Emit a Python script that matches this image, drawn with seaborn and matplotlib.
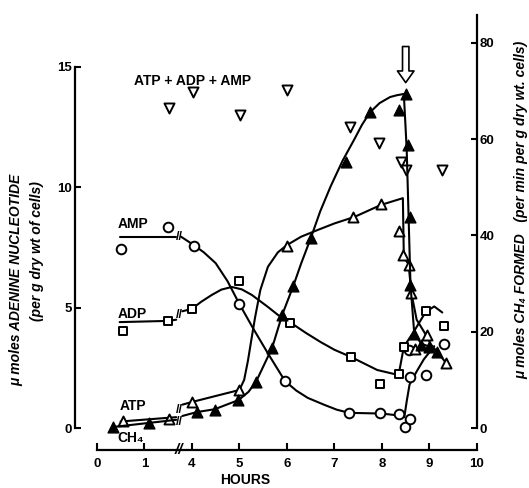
import numpy as np
import matplotlib
matplotlib.use("Agg")
import matplotlib.pyplot as plt
import seaborn as sns

sns.set_style("ticks")
FAM = ["Liberation Sans", "DejaVu Sans"]
plt.rcParams["font.family"] = FAM
plt.rcParams["font.weight"] = "bold"
for k in ("text.color", "axes.labelcolor", "xtick.color", "ytick.color", "axes.edgecolor"):
    plt.rcParams[k] = "black"

# ---------------- data (hours, values) ----------------
# tick labels of the broken hour axis
x_tick_labels = ["0", "1", "4", "5", "6", "7", "8", "9", "10"]
left_ticks = [0, 5, 10, 15]
right_ticks = [0, 20, 40, 60, 80]

# AMP (open circles), umol / g
amp_h = [0.5, 1.5, 4.04, 5.0, 5.96, 7.31, 7.96, 8.35, 8.48, 8.58, 8.56, 8.58, 8.92, 9.31]
amp_v = [7.44, 8.35, 7.56, 5.15, 1.95, 0.62, 0.62, 0.58, 0.04, 0.37, 3.24, 2.1, 2.2, 3.5]
# ADP (open squares)
adp_h = [0.54, 1.5, 4.0, 5.0, 6.06, 7.35, 7.96, 8.35, 8.46, 8.92, 9.31]
adp_v = [4.03, 4.45, 4.94, 6.1, 4.38, 2.95, 1.83, 2.24, 3.37, 4.86, 4.24]
# ATP (open triangles)
atp_h = [0.54, 1.52, 4.0, 5.0, 6.0, 7.4, 7.98, 8.35, 8.44, 8.56, 8.62, 8.7, 8.94, 9.35]
atp_v = [0.29, 0.37, 1.08, 1.58, 7.58, 8.77, 9.3, 8.2, 7.2, 6.77, 5.6, 3.3, 3.85, 2.7]
# ATP + ADP + AMP (open inverted triangles)
tot_h = [1.52, 4.02, 5.02, 6.0, 7.33, 7.94, 8.4, 8.5, 9.27]
tot_v = [13.3, 13.95, 13.0, 14.05, 12.5, 11.85, 11.05, 10.7, 10.7]
# CH4 formed (filled triangles), right axis
ch4_h = [0.33, 1.1, 4.1, 4.48, 4.98, 5.35, 5.69, 5.9, 6.13, 6.5, 7.25, 7.75, 8.35, 8.5,
         8.54, 8.58, 8.6, 8.68, 8.83, 9.0, 9.15]
ch4_v = [0.2, 1.0, 3.3, 3.75, 5.8, 9.6, 16.7, 23.5, 29.4, 39.4, 55.2, 65.6, 66.0, 69.4,
         58.8, 43.9, 29.8, 19.6, 17.2, 16.9, 15.8]

# hand-fitted curves (before / after the axis break)
amp_pre_h, amp_pre_v = [0.48, 1.67], [7.95, 7.95]
amp_post_h = [3.77, 4.04, 4.25, 4.5, 4.75, 5.0, 5.3, 5.6, 5.96, 6.2, 6.44, 6.79, 7.05, 7.31,
              8.0, 8.35, 8.47, 8.52, 8.58, 8.73, 8.88, 9.1]
amp_post_v = [7.95, 7.6, 7.3, 6.85, 6.1, 5.15, 4.1, 3.1, 1.95, 1.55, 1.25, 0.96, 0.76, 0.63,
              0.6, 0.52, 0.45, 1.1, 1.8, 2.35, 2.85, 3.4]

adp_pre_h, adp_pre_v = [0.48, 1.5, 1.67], [4.4, 4.45, 4.5]
adp_post_h = [3.8, 4.0, 4.2, 4.42, 4.62, 4.84, 5.05, 5.26, 5.6, 5.81, 6.06, 6.4, 6.71, 7.0,
              7.35, 7.9, 8.35, 8.46, 8.69, 8.92, 9.1, 9.27]
adp_post_v = [4.85, 4.95, 5.25, 5.53, 5.75, 5.86, 5.76, 5.53, 5.03, 4.7, 4.4, 3.95, 3.57, 3.25,
              2.95, 2.41, 2.2, 3.37, 4.07, 4.82, 5.05, 4.8]

atp_pre_h, atp_pre_v = [0.5, 1.67], [0.27, 0.45]
atp_post_h = [3.8, 4.0, 5.0, 5.1, 5.18, 5.25, 5.33, 5.44, 5.6, 5.81, 6.0, 6.3, 6.65, 7.0,
              7.42, 7.98, 8.44, 8.46, 8.56, 8.62, 8.73, 8.9, 9.04, 9.27, 9.35]
atp_post_v = [0.97, 1.08, 1.58, 2.0, 2.8, 3.65, 4.6, 5.73, 6.7, 7.3, 7.6, 7.95, 8.23, 8.5,
              8.77, 9.27, 9.55, 7.1, 6.8, 5.6, 4.5, 3.95, 3.45, 2.9, 2.7]

ch4_pre_h, ch4_pre_v = [0.33, 1.67], [0.2, 1.7]
ch4_post_h = [3.8, 4.1, 4.48, 4.98, 5.19, 5.35, 5.69, 5.9, 6.13, 6.3, 6.5, 6.7, 6.92, 7.17,
              7.42, 7.58, 7.75, 7.95, 8.17, 8.3, 8.46, 8.52, 8.56, 8.6, 8.68, 8.83, 9.0, 9.2]
ch4_post_v = [2.5, 3.3, 3.9, 5.8, 7.5, 9.6, 16.7, 23.5, 29.4, 34.2, 39.4, 45.0, 50.2, 55.5,
              60.0, 63.0, 65.6, 67.5, 68.75, 69.1, 69.4, 58.0, 44.0, 29.8, 19.6, 17.5, 16.9, 15.8]


def pos(h):
    """map hours onto the broken axis (1.7 h ... 3.7 h removed)"""
    h = np.asarray(h, dtype=float)
    return np.where(h < 2.5, h, h - 2.0)


# ---------------- figure ----------------
fig = plt.figure(figsize=(5.29, 4.88), dpi=100)
W, H = 529, 488
ax = fig.add_axes([75 / W, (H - 450) / H, (477 - 75) / W, (450 - 15) / H])
ax2 = ax.twinx()

ymin, ymax = -0.914, 17.16
ax.set_xlim(-0.46, 7.92)
ax.set_ylim(ymin, ymax)
ax2.set_ylim(ymin * 5, ymax * 5)

LW = 1.5
line_kw = dict(color="black", lw=LW, sort=False, estimator=None, legend=False)
for hh, vv in [(amp_pre_h, amp_pre_v), (amp_post_h, amp_post_v),
               (adp_pre_h, adp_pre_v), (adp_post_h, adp_post_v),
               (atp_pre_h, atp_pre_v), (atp_post_h, atp_post_v)]:
    sns.lineplot(x=pos(hh), y=vv, ax=ax, **line_kw)
for hh, vv in [(ch4_pre_h, ch4_pre_v), (ch4_post_h, ch4_post_v)]:
    sns.lineplot(x=pos(hh), y=vv, ax=ax2, **line_kw)

open_kw = dict(color="white", edgecolor="black", linewidth=1.4, zorder=4, clip_on=False, legend=False)
sns.scatterplot(x=pos(amp_h), y=amp_v, ax=ax, marker="o", s=48, **open_kw)
sns.scatterplot(x=pos(adp_h), y=adp_v, ax=ax, marker="s", s=36, **open_kw)
sns.scatterplot(x=pos(atp_h), y=atp_v, ax=ax, marker="^", s=52, **open_kw)
sns.scatterplot(x=pos(tot_h), y=tot_v, ax=ax, marker="v", s=52, **open_kw)
sns.scatterplot(x=pos(ch4_h), y=ch4_v, ax=ax2, marker="^", s=60, color="black",
                edgecolor="black", linewidth=1.0, zorder=4, clip_on=False, legend=False)

for a in (ax, ax2):
    a.set_xlabel("")
    a.set_ylabel("")
    a.patch.set_visible(False)

# spines
ax.spines["top"].set_visible(False)
ax.spines["right"].set_visible(False)
for s in ("top", "left", "bottom"):
    ax2.spines[s].set_visible(False)
ax.spines["left"].set_bounds(0, 15)
ax.spines["bottom"].set_bounds(0, 8)
ax2.spines["right"].set_bounds(0, ymax * 5)
for a in (ax, ax2):
    for s in a.spines.values():
        s.set_linewidth(1.6)
        s.set_color("black")

tick_font = dict(fontsize=9.5, fontweight="bold", color="black")
ax.set_xticks(range(len(x_tick_labels)))
ax.set_xticklabels(x_tick_labels, **tick_font)
ax.set_yticks(left_ticks)
ax.set_yticklabels([str(t) for t in left_ticks], **tick_font)
ax2.set_yticks(right_ticks)
ax2.set_yticklabels([str(t) for t in right_ticks], **tick_font)
ax.tick_params(axis="x", direction="in", length=5, width=1.5, pad=6, colors="black")
ax.tick_params(axis="y", direction="in", length=4, width=1.5, pad=2, colors="black")
ax2.tick_params(axis="y", direction="in", length=4, width=1.5, pad=2, colors="black")

# axis break marks
tr = ax.get_xaxis_transform()
ax.text(1.72, 0.0, "//", transform=tr, ha="center", va="center", fontsize=11,
        fontweight="bold", fontstyle="italic")
for yv in (7.95, 4.7, 0.75):
    ax.text(1.73, yv, "//", ha="center", va="center", fontsize=9, fontweight="bold")
ax2.text(1.73, 1.2, "//", ha="center", va="center", fontsize=9, fontweight="bold")

# labels of the series
lab = dict(fontsize=10, fontweight="bold", ha="center", va="center", color="black")
ax.text(pos(0.77), 8.48, "AMP", **lab)
ax.text(pos(0.75), 4.72, "ADP", **lab)
ax.text(pos(0.75), 0.93, "ATP", **lab)
ax.text(pos(0.71), -0.42, "CH₄", **lab)
ax.text(pos(4.02), 14.42, "ATP + ADP + AMP", **lab)

# open arrow at the time of the addition
ax.annotate("", xy=(pos(8.5), 14.35), xytext=(pos(8.5), 15.85),
            arrowprops=dict(arrowstyle="simple,head_length=0.6,head_width=0.85,tail_width=0.33",
                            fc="white", ec="black", lw=1.2, mutation_scale=14,
                            shrinkA=0, shrinkB=0), annotation_clip=False)

# axis titles
ax.set_xlabel("HOURS", fontsize=10, fontweight="bold", color="black")
ax.xaxis.set_label_coords((245 - 75) / 402, -23 / 435)
lk = dict(rotation=90, ha="center", va="center", fontsize=10, fontweight="bold",
          fontstyle="italic", color="black")
fig.text(16 / W, 1 - 280 / H, "μ moles ADENINE NUCLEOTIDE", **lk)
fig.text(37 / W, 1 - 251 / H, "(per g dry wt of cells)", **lk)
fig.text(521 / W, 1 - 210 / H, "μ moles CH₄ FORMED   (per min per g dry wt. cells)", **lk)

fig.savefig("out.png", dpi=100)
